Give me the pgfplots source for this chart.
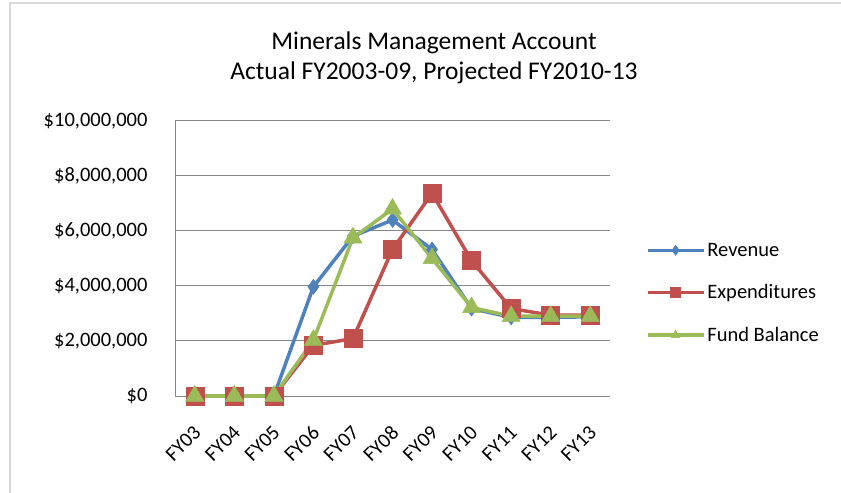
\documentclass[border=0pt]{standalone}
\usepackage{pgfplots}
\pgfplotsset{compat=1.18}
\usepackage{fontspec}
\setmainfont{Carlito}

\definecolor{revblue}{HTML}{4F81BD}
\definecolor{expred}{HTML}{C0504D}
\definecolor{fundgreen}{HTML}{9BBB59}
\definecolor{gridgray}{HTML}{868686}
\definecolor{framegray}{HTML}{D9D9D9}

\begin{document}
\begin{tikzpicture}
\useasboundingbox (0,0) rectangle (841bp,493bp);
% chart frame (only left and top edges are visible)
\draw[framegray, line width=1.5bp] (10bp,0) -- (10bp,490bp) -- (841bp,490bp);

\node[align=center, font=\fontsize{25.5bp}{29.5bp}\selectfont] at (434bp,435bp)
  {Minerals Management Account\\Actual FY2003-09, Projected FY2010-13};

\begin{axis}[
    at={(175bp,97bp)}, anchor=south west,
    scale only axis,
    width=435bp, height=275bp,
    xmin=-0.5, xmax=10.5,
    ymin=0, ymax=10000000,
    xtick={0,...,10},
    xticklabels={FY03,FY04,FY05,FY06,FY07,FY08,FY09,FY10,FY11,FY12,FY13},
    ytick={0,2000000,4000000,6000000,8000000,10000000},
    yticklabels={{\$0},{\$2,000,000},{\$4,000,000},{\$6,000,000},{\$8,000,000},{\$10,000,000}},
    scaled y ticks=false,
    axis x line=bottom, axis y line=left,
    axis line style={-, gridgray, line width=1bp},
    major tick length=0pt,
    ymajorgrids,
    grid style={gridgray, line width=1bp},
    tick label style={font=\fontsize{20.5bp}{24bp}\selectfont},
    yticklabel style={xshift=-24bp},
    % shifts first, so that they act in the unrotated frame
    xticklabel style={xshift=5bp, yshift=-31bp, rotate=45, anchor=east},
    clip=false,
    legend style={at={(1.082,0.3745)}, anchor=west, draw=none, fill=none,
        font=\fontsize{20.5bp}{24bp}\selectfont, row sep=23bp,
        inner sep=0pt},
    legend cell align=left,
    legend image code/.code={%
        \draw[#1, mark size=5bp, mark repeat=2, mark phase=2]
        plot coordinates {(0bp,0bp) (28bp,0bp) (56bp,0bp)};},
]
\addplot[revblue, line width=3.5bp, mark=diamond*, mark size=7.5bp,
    mark options={solid, fill=revblue, line width=0.5bp}]
  coordinates {(0,0) (1,0) (2,0) (3,3970000) (4,5810000) (5,6400000)
               (6,5330000) (7,3180000) (8,2860000) (9,2860000) (10,2880000)};
\addlegendentry{Revenue}
\addplot[expred, line width=3.5bp, mark=square*, mark size=9bp,
    mark options={solid, fill=expred, line width=0.5bp}]
  coordinates {(0,0) (1,0) (2,0) (3,1840000) (4,2090000) (5,5330000)
               (6,7370000) (7,4920000) (8,3180000) (9,2940000) (10,2940000)};
\addlegendentry{Expenditures}
\addplot[fundgreen, line width=3.5bp, mark=triangle*, mark size=10.5bp,
    mark options={solid, fill=fundgreen, line width=0.5bp}]
  coordinates {(0,0) (1,0) (2,0) (3,2030000) (4,5750000) (5,6800000)
               (6,5000000) (7,3220000) (8,2900000) (9,2900000) (10,2900000)};
\addlegendentry{Fund Balance}
\end{axis}
\end{tikzpicture}
\end{document}
